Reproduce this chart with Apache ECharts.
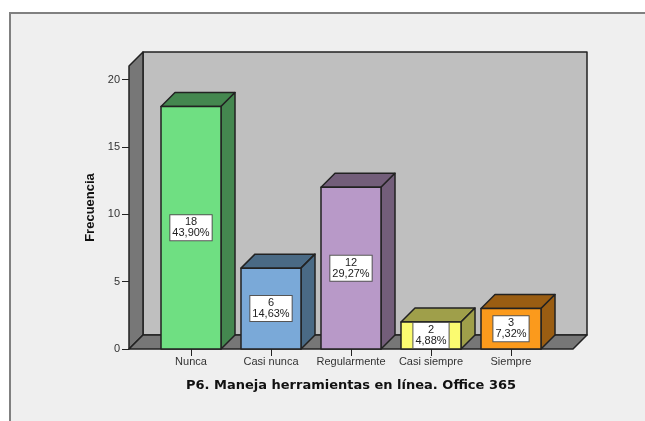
<!DOCTYPE html>
<html>
<head>
<meta charset="utf-8">
<style>html,body{margin:0;padding:0;background:#fff}#c{width:645px;height:421px}</style>
<script src="https://cdn.jsdelivr.net/npm/echarts@6/dist/echarts.min.js"></script>
</head>
<body>
<div id="c"></div>
<script>
const categories = ["Nunca", "Casi nunca", "Regularmente", "Casi siempre", "Siempre"];
const counts = [18, 6, 12, 2, 3];
const percents = ["43,90%", "14,63%", "29,27%", "4,88%", "7,32%"];
const frontColors = ["#6fdf82", "#7aa9d8", "#b899c8", "#fbfb70", "#fb9a1c"];
const shadeColors = ["#44874f", "#4a6a85", "#735e7a", "#9f9f4a", "#9a5d12"];

const DEPTH = 14, PAD = 22, EDGE = "#222222", FONT = "Liberation Sans, Arial, sans-serif";
const chart = echarts.init(document.getElementById("c"), null, {renderer: "canvas"});

function poly(points, fill, width) {
  return {type: "polygon", shape: {points}, style: {fill, stroke: EDGE, lineWidth: width, lineJoin: "round"}};
}
function renderWalls(params, api) {
  const cs = params.coordSys, y0 = api.coord([0, 0])[1], t = cs.y;
  const l = cs.x - PAD, r = cs.x + cs.width + PAD, d = DEPTH;
  return {type: "group", children: [
    poly([[l + d, t - d], [r + d, t - d], [r + d, y0 - d], [l + d, y0 - d]], "#bfbfbf", 1.5),
    poly([[l, t], [l + d, t - d], [l + d, y0 - d], [l, y0]], "#777777", 1.5),
    poly([[l, y0], [l + d, y0 - d], [r + d, y0 - d], [r, y0]], "#777777", 1.5)
  ]};
}
function renderBar(params, api) {
  const i = api.value(0), v = api.value(1), d = DEPTH;
  const top = api.coord([i, v]), base = api.coord([i, 0]);
  const w = api.size([1, 0])[0] * 0.75;
  const l = top[0] - w / 2, r = top[0] + w / 2, t = top[1], b = base[1];
  const front = frontColors[i], shade = shadeColors[i];
  return {type: "group", children: [
    poly([[l, t], [l + d, t - d], [r + d, t - d], [r, t]], shade, 1.5),
    poly([[r, t], [r + d, t - d], [r + d, b - d], [r, b]], shade, 1.5),
    poly([[l, t], [r, t], [r, b], [l, b]], front, 1.5),
    {type: "text", x: top[0], y: (t + b) / 2, z2: 10, style: {
      text: counts[i] + "\n" + percents[i], align: "center", verticalAlign: "middle",
      font: "11px " + FONT, lineHeight: 11, fill: "#222222", backgroundColor: "#ffffff",
      borderColor: "#555555", borderWidth: 1, padding: [2, 2, 1, 2]
    }}
  ]};
}
chart.setOption({
  animation: false,
  backgroundColor: "#ffffff",
  graphic: [{type: "rect", z: -1, shape: {x: 10, y: 13, width: 640, height: 412},
    style: {fill: "#efefef", stroke: "#808080", lineWidth: 2}}],
  grid: {left: 151, width: 400, top: 66, height: 283},
  xAxis: {
    type: "category", data: categories,
    name: "P6. Maneja herramientas en línea. Office 365",
    nameLocation: "middle", nameGap: 30,
    nameTextStyle: {fontFamily: "DejaVu Sans, Verdana, sans-serif", fontWeight: "bold", fontSize: 13, color: "#111111"},
    axisLine: {show: false},
    axisTick: {show: true, alignWithLabel: true, length: 7, lineStyle: {color: "#222222"}},
    axisLabel: {fontFamily: FONT, fontSize: 11, color: "#333333", margin: 7, interval: 0},
    splitLine: {show: false}
  },
  yAxis: {
    type: "value", min: 0, max: 21, interval: 5, offset: PAD,
    name: "Frecuencia", nameLocation: "middle", nameGap: 30,
    nameTextStyle: {fontFamily: FONT, fontWeight: "bold", fontSize: 13, color: "#111111"},
    axisLine: {show: false},
    axisTick: {show: true, length: 7, lineStyle: {color: "#222222"}},
    axisLabel: {fontFamily: FONT, fontSize: 11, color: "#333333", margin: 9,
      showMaxLabel: false},
    splitLine: {show: false}
  },
  series: [
    {type: "custom", z: 1, silent: true, renderItem: renderWalls, data: [[0, 0]], encode: {x: 0, y: 1}},
    {type: "custom", z: 3, renderItem: renderBar,
      data: counts.map((v, i) => [i, v]), encode: {x: 0, y: 1}}
  ]
});
</script>
</body>
</html>
